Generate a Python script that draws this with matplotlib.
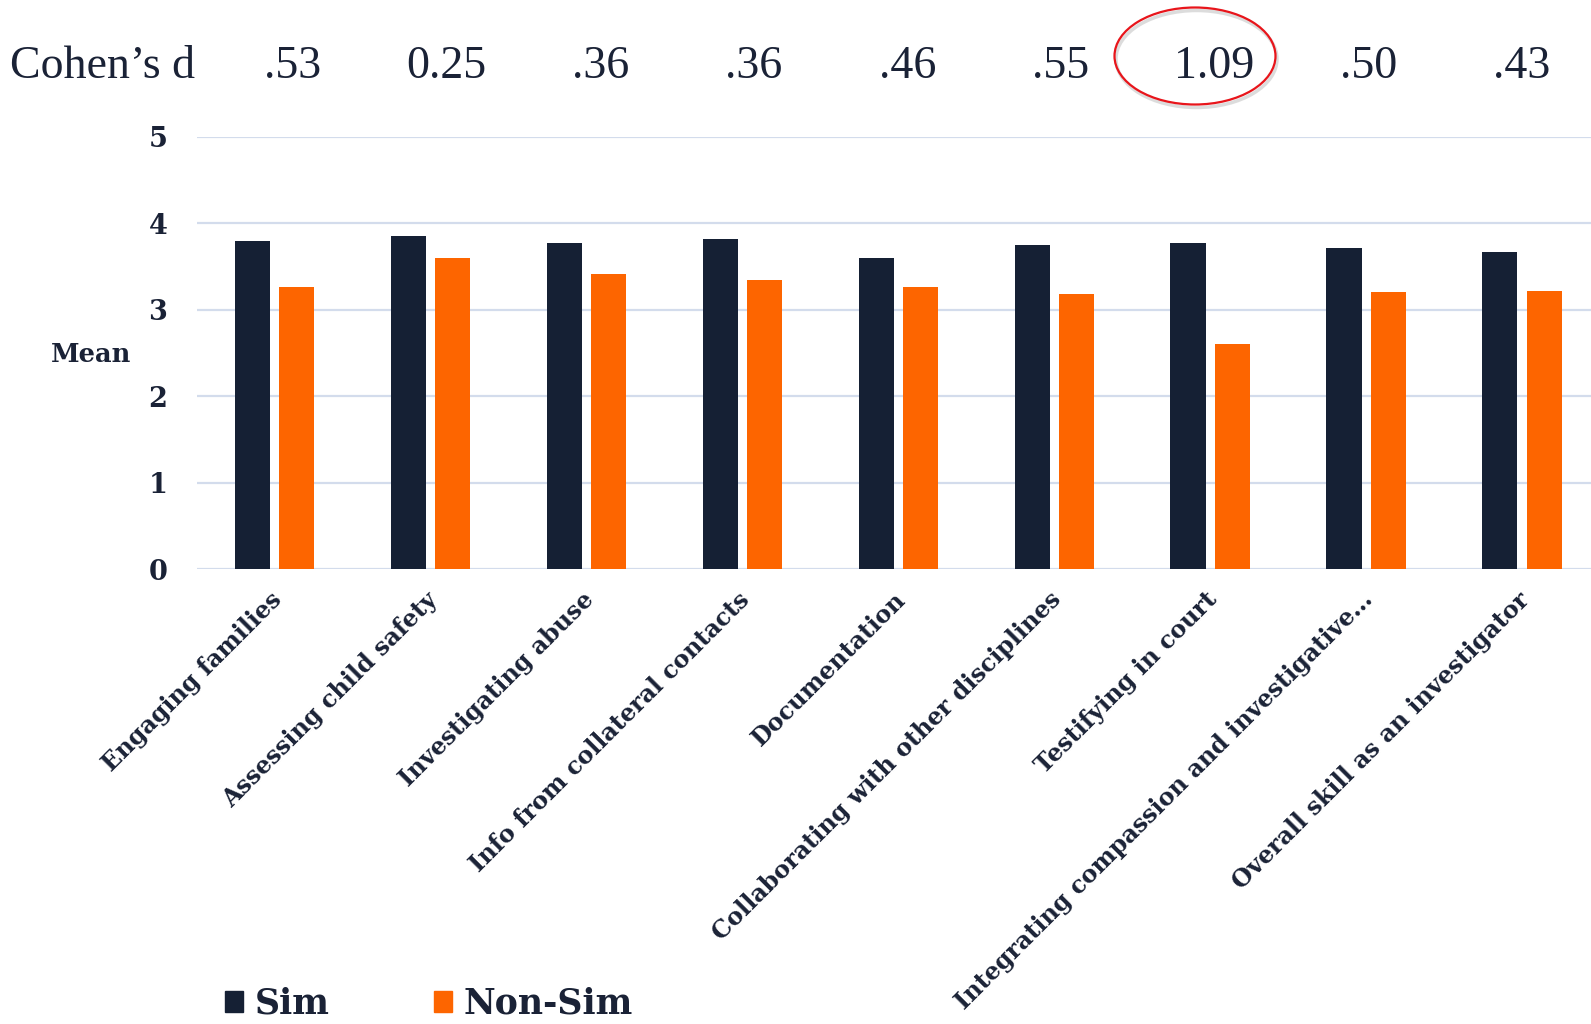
import matplotlib
matplotlib.use("Agg")
import matplotlib.pyplot as plt
from matplotlib.patches import Ellipse, Patch
from matplotlib.transforms import ScaledTranslation
import numpy as np

skills = ["Engaging families", "Assessing child safety", "Investigating abuse",
          "Info from collateral contacts", "Documentation",
          "Collaborating with other disciplines", "Testifying in court",
          "Integrating compassion and investigative…",
          "Overall skill as an investigator"]
sim = [3.80, 3.85, 3.77, 3.82, 3.60, 3.75, 3.77, 3.71, 3.67]
non_sim = [3.26, 3.60, 3.41, 3.35, 3.26, 3.18, 2.60, 3.20, 3.22]
cohens_d = [".53", "0.25", ".36", ".36", ".46", ".55", "1.09", ".50", ".43"]
highlight = "1.09"

navy = "#152034"
orange = "#FD6500"
grid_col = "#D3DCEC"
text_col = "#1A2236"

W, H = 1591, 1024
fig = plt.figure(figsize=(W / 100, H / 100), dpi=100)
ax = fig.add_axes([196.5 / W, 1 - 569.3 / H, 1 - 196.5 / W, (569.3 - 136.8) / H])

x = np.arange(len(skills))
bw = 0.225
off = 0.142
ax.bar(x - off, sim, bw, color=navy, zorder=3, label="Sim")
ax.bar(x + off, non_sim, bw, color=orange, zorder=3, label="Non-Sim")

ax.set_ylim(0, 5)
ax.set_xlim(-0.5, 8.442)
ax.set_yticks(range(6))
ax.yaxis.grid(True, color=grid_col, lw=1.6, zorder=0)
ax.set_axisbelow(True)
for s in ax.spines.values():
    s.set_visible(False)
ax.tick_params(axis="both", length=0)
ax.tick_params(axis="y", pad=21)
ax.tick_params(axis="x", pad=13)

bold = dict(family="DejaVu Serif", weight="bold", color=text_col)
ax.set_yticklabels([str(v) for v in range(6)], fontsize=19.5, **bold)
ax.set_xticks(x)
ax.set_xticklabels(skills, rotation=45, ha="right", va="top",
                   rotation_mode="anchor", fontsize=17.2, **bold)
shift = ScaledTranslation(-5 / 100, 0, fig.dpi_scale_trans)
for lbl in ax.get_xticklabels():
    lbl.set_transform(lbl.get_transform() + shift)

fig.text(91 / W, 1 - 355 / H, "Mean", ha="center", va="center", fontsize=18.5, **bold)

# effect size row across the top
serif = dict(family="Liberation Serif", color=text_col, fontsize=33)
fig.text(10 / W, 1 - 78 / H, "Cohen\u2019s d", ha="left", va="baseline", **serif)
for i, d in enumerate(cohens_d):
    fig.text((293 + 153.6 * i) / W, 1 - 78 / H, d, ha="center", va="baseline", **serif)
    if d == highlight:
        cx, cy = 1195 / W, 1 - 56 / H
        shadow = Ellipse((cx + 1.5 / W, cy - 3 / H), 161 / W, 97 / H,
                         transform=fig.transFigure, fill=False,
                         edgecolor="#BBBBBB", lw=2.5, alpha=0.5)
        ring = Ellipse((cx, cy), 161 / W, 97 / H, transform=fig.transFigure,
                       fill=False, edgecolor="#E8151B", lw=1.6)
        fig.patches.extend([shadow, ring])

handles = [Patch(color=navy, label="Sim"), Patch(color=orange, label="Non-Sim")]
leg = fig.legend(handles=handles, loc="center left",
                 bbox_to_anchor=(225 / W, 1 - 1004 / H), ncol=2, frameon=False,
                 borderpad=0, borderaxespad=0, handlelength=0.53, handleheight=0.53,
                 handletextpad=0.32, columnspacing=3.0,
                 prop=dict(family="DejaVu Serif", weight="bold", size=25))
for t in leg.get_texts():
    t.set_color(text_col)

fig.savefig("out.png", dpi=100)
